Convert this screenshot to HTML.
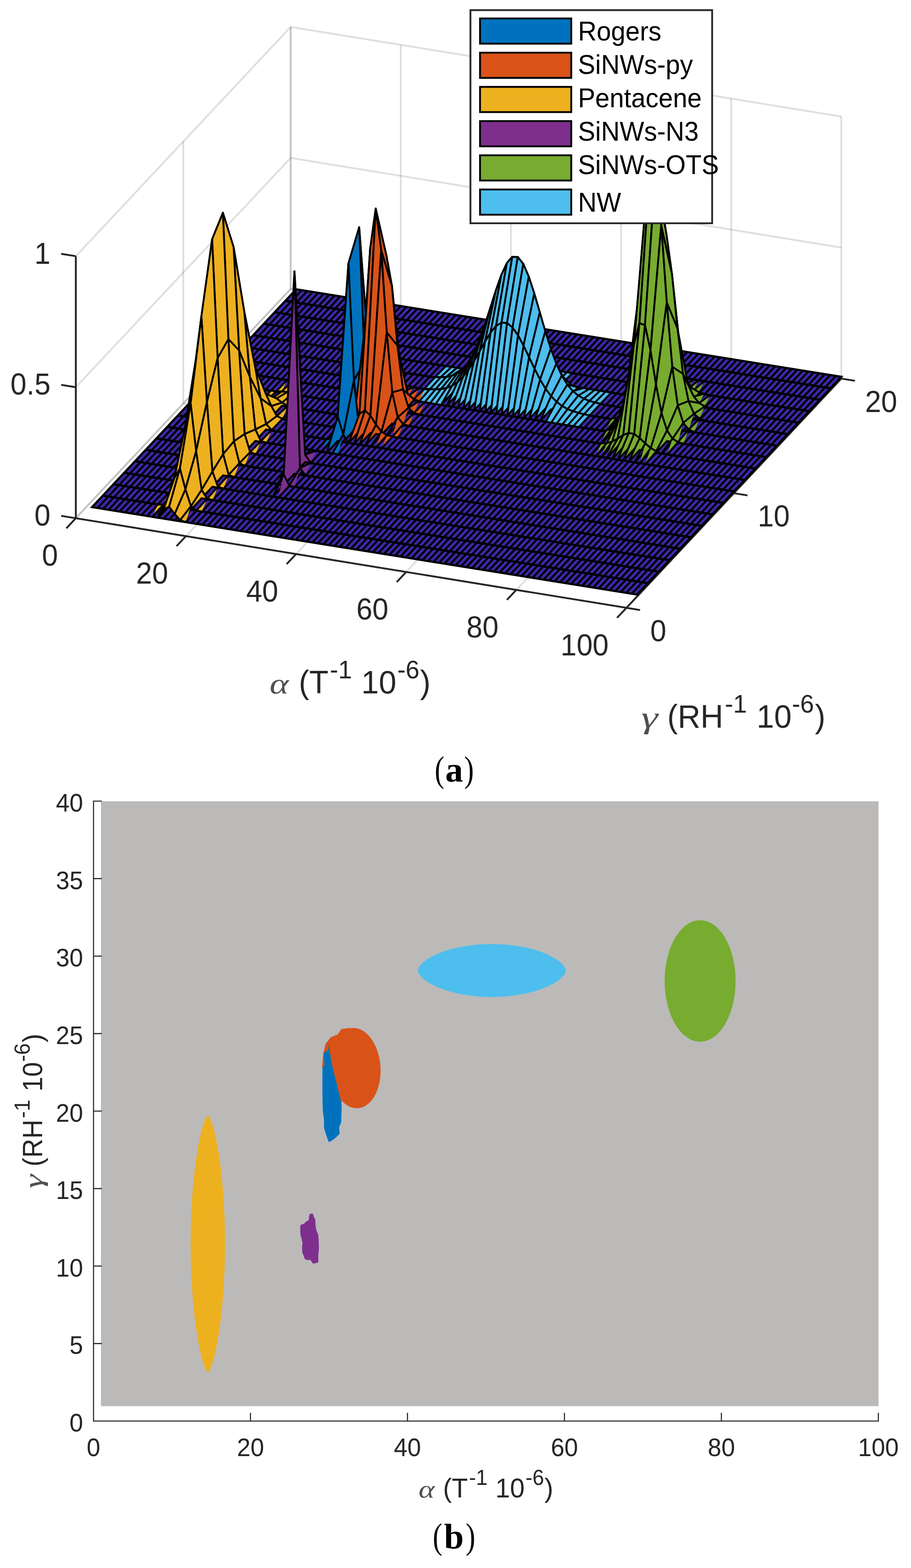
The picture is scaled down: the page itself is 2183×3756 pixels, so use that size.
<!DOCTYPE html>
<html lang="en"><head><meta charset="utf-8"><title>Figure</title>
<style>
html,body{margin:0;padding:0;background:#fff}
body{width:2183px;height:3756px}
svg{display:block}
</style></head><body>
<svg width="2183" height="3756" viewBox="0 0 2183 3756" role="img" aria-label="Figure: (a) 3D density surfaces, (b) 2D map">
<g stroke="#262626" stroke-opacity="0.15" stroke-width="4.4" fill="none" stroke-linecap="butt">
<polyline points="181.7,1241.3 696.5,692.1 696.5,64.5"/>
<polyline points="445.6,1284.2 960.4,735 960.4,107.4"/>
<polyline points="709.5,1327.2 1224.3,778 1224.3,150.4"/>
<polyline points="973.4,1370.1 1488.2,820.9 1488.2,193.3"/>
<polyline points="1237.3,1413.1 1752.1,863.9 1752.1,236.3"/>
<polyline points="1501.2,1456 2016,906.8 2016,279.2"/>
<polyline points="1501.2,1456 181.7,1241.3 181.7,613.7"/>
<polyline points="1758.6,1181.4 439.1,966.7 439.1,339.1"/>
<polyline points="2016,906.8 696.5,692.1 696.5,64.5"/>
<polyline points="181.7,1241.3 696.5,692.1 2016,906.8"/>
<polyline points="181.7,927.5 696.5,378.3 2016,593"/>
<polyline points="181.7,613.7 696.5,64.5 2016,279.2"/>
</g>
<g stroke="#262626" stroke-width="4.4" fill="none" stroke-linecap="butt">
<polyline points="181.7,613.7 181.7,1241.3 1501.2,1456 2016,906.8" stroke-linejoin="miter"/>
<line x1="181.7" y1="1241.3" x2="159.1" y2="1265.4"/>
<line x1="445.6" y1="1284.2" x2="423" y2="1308.3"/>
<line x1="709.5" y1="1327.2" x2="686.9" y2="1351.3"/>
<line x1="973.4" y1="1370.1" x2="950.8" y2="1394.2"/>
<line x1="1237.3" y1="1413.1" x2="1214.7" y2="1437.1"/>
<line x1="1501.2" y1="1456" x2="1478.6" y2="1480.1"/>
<line x1="1501.2" y1="1456" x2="1533.8" y2="1461.3"/>
<line x1="1758.6" y1="1181.4" x2="1791.2" y2="1186.7"/>
<line x1="2016" y1="906.8" x2="2048.6" y2="912.1"/>
<line x1="181.7" y1="1241.3" x2="146.5" y2="1235.6"/>
<line x1="181.7" y1="927.5" x2="146.5" y2="921.8"/>
<line x1="181.7" y1="613.7" x2="146.5" y2="608"/>
</g>
<polygon points="220.6,1214.8 1526.9,1424.3 2016,902.6 709.7,693" fill="#3E26A8" stroke="#000" stroke-width="5.2" stroke-linejoin="miter"/>
<path d="M233.8 1216.9L722.9 695.1M247 1219L736.1 697.3M260.2 1221.1L749.3 699.4M273.4 1223.2L762.5 701.5M286.6 1225.3L775.7 703.6M299.8 1227.5L788.9 705.7M313 1229.6L802.1 707.8M326.2 1231.7L815.3 710M339.4 1233.8L828.4 712.1M352.6 1235.9L841.6 714.2M365.8 1238L854.8 716.3M379 1240.2L868 718.4M392.2 1242.3L881.2 720.5M405.4 1244.4L894.4 722.7M418.6 1246.5L907.6 724.8M431.8 1248.6L920.8 726.9M444.9 1250.7L934 729M458.1 1252.9L947.2 731.1M471.3 1255L960.4 733.2M484.5 1257.1L973.6 735.4M497.7 1259.2L986.8 737.5M510.9 1261.3L1000 739.6M524.1 1263.4L1013.2 741.7M537.3 1265.6L1026.4 743.8M550.5 1267.7L1039.6 745.9M563.7 1269.8L1052.8 748.1M576.9 1271.9L1066 750.2M590.1 1274L1079.2 752.3M603.3 1276.1L1092.3 754.4M616.5 1278.3L1105.5 756.5M629.7 1280.4L1118.7 758.6M642.9 1282.5L1131.9 760.8M656.1 1284.6L1145.1 762.9M669.3 1286.7L1158.3 765M682.5 1288.9L1171.5 767.1M695.7 1291L1184.7 769.2M708.9 1293.1L1197.9 771.3M722 1295.2L1211.1 773.5M735.2 1297.3L1224.3 775.6M748.4 1299.4L1237.5 777.7M761.6 1301.6L1250.7 779.8M774.8 1303.7L1263.9 781.9M788 1305.8L1277.1 784M801.2 1307.9L1290.3 786.2M814.4 1310L1303.5 788.3M827.6 1312.1L1316.7 790.4M840.8 1314.3L1329.9 792.5M854 1316.4L1343.1 794.6M867.2 1318.5L1356.2 796.7M880.4 1320.6L1369.4 798.9M893.6 1322.7L1382.6 801M906.8 1324.8L1395.8 803.1M920 1327L1409 805.2M933.2 1329.1L1422.2 807.3M946.4 1331.2L1435.4 809.5M959.6 1333.3L1448.6 811.6M972.8 1335.4L1461.8 813.7M985.9 1337.5L1475 815.8M999.1 1339.7L1488.2 817.9M1012.3 1341.8L1501.4 820M1025.5 1343.9L1514.6 822.2M1038.7 1346L1527.8 824.3M1051.9 1348.1L1541 826.4M1065.1 1350.2L1554.2 828.5M1078.3 1352.4L1567.4 830.6M1091.5 1354.5L1580.6 832.7M1104.7 1356.6L1593.8 834.9M1117.9 1358.7L1607 837M1131.1 1360.8L1620.1 839.1M1144.3 1362.9L1633.3 841.2M1157.5 1365.1L1646.5 843.3M1170.7 1367.2L1659.7 845.4M1183.9 1369.3L1672.9 847.6M1197.1 1371.4L1686.1 849.7M1210.3 1373.5L1699.3 851.8M1223.5 1375.6L1712.5 853.9M1236.7 1377.8L1725.7 856M1249.8 1379.9L1738.9 858.1M1263 1382L1752.1 860.3M1276.2 1384.1L1765.3 862.4M1289.4 1386.2L1778.5 864.5M1302.6 1388.4L1791.7 866.6M1315.8 1390.5L1804.9 868.7M1329 1392.6L1818.1 870.8M1342.2 1394.7L1831.3 873M1355.4 1396.8L1844.5 875.1M1368.6 1398.9L1857.7 877.2M1381.8 1401.1L1870.9 879.3M1395 1403.2L1884 881.4M1408.2 1405.3L1897.2 883.5M1421.4 1407.4L1910.4 885.7M1434.6 1409.5L1923.6 887.8M1447.8 1411.6L1936.8 889.9M1461 1413.8L1950 892M1474.2 1415.9L1963.2 894.1M1487.4 1418L1976.4 896.2M1500.6 1420.1L1989.6 898.4M1513.7 1422.2L2002.8 900.5" stroke="#000" stroke-width="4.9" fill="none"/>
<path d="M246.4 1187.3L1552.7 1396.9M272.1 1159.8L1578.4 1369.4M297.9 1132.4L1604.2 1342M323.6 1104.9L1629.9 1314.5M349.3 1077.5L1655.6 1287M375.1 1050L1681.4 1259.6M400.8 1022.5L1707.1 1232.1M426.6 995.1L1732.9 1204.7M452.3 967.6L1758.6 1177.2M478 940.2L1784.3 1149.7M503.8 912.7L1810.1 1122.3M529.5 885.2L1835.8 1094.8M555.3 857.8L1861.6 1067.4M581 830.3L1887.3 1039.9M606.7 802.9L1913 1012.4M632.5 775.4L1938.8 985M658.2 747.9L1964.5 957.5M684 720.5L1990.3 930.1" stroke="#000" stroke-width="5.4" fill="none"/>
<g stroke="#000" stroke-width="4.4" stroke-linejoin="round">
<polygon points="1608.9,928.9 1622.1,929.2 1634.6,904.6" fill="#77AC30" stroke="none"/>
<polygon points="1608.9,928.9 1622.1,929.2 1647.8,906.7 1634.6,904.6" fill="none"/>
<polygon points="1622.1,929.2 1635.3,930.1 1647.8,906.7" fill="#77AC30" stroke="none"/>
<polygon points="1622.1,929.2 1635.3,930.1 1661,908.8 1647.8,906.7" fill="none"/>
<polygon points="1635.3,930.1 1648.5,932.3 1661,908.8" fill="#77AC30" stroke="none"/>
<polygon points="1635.3,930.1 1648.5,932.3 1674.2,910.9 1661,908.8" fill="none"/>
<polygon points="1648.5,932.3 1661.7,935.7 1674.2,910.9" fill="#77AC30" stroke="none"/>
<polygon points="1648.5,932.3 1661.7,935.7 1687.4,913.1 1674.2,910.9" fill="none"/>
<polygon points="1661.7,935.7 1674.9,939.6 1687.4,913.1" fill="#77AC30" stroke="none"/>
<polygon points="1661.7,935.7 1674.9,939.6 1700.6,915.2 1687.4,913.1" fill="none"/>
<polygon points="1174.1,893.1 1187.3,894.9 1213.1,868.5 1199.9,866.4" fill="#4DBEEE"/>
<polygon points="1187.3,894.9 1200.5,896.7 1226.2,870.7 1213.1,868.5" fill="#4DBEEE"/>
<polygon points="1200.5,896.7 1213.7,898.5 1239.4,872.8 1226.2,870.7" fill="#4DBEEE"/>
<polygon points="1213.7,898.5 1226.9,900.3 1252.6,874.9 1239.4,872.8" fill="#4DBEEE"/>
<polygon points="1226.9,900.3 1240.1,902.2 1265.8,877 1252.6,874.9" fill="#4DBEEE"/>
<polygon points="1240.1,902.2 1253.3,904.2 1279,879.1 1265.8,877" fill="#4DBEEE"/>
<polygon points="1253.3,904.2 1266.5,906.3 1292.2,881.2 1279,879.1" fill="#4DBEEE"/>
<polygon points="1266.5,906.3 1279.7,908.5 1305.4,883.4 1292.2,881.2" fill="#4DBEEE"/>
<polygon points="1279.7,908.5 1292.9,910.8 1318.6,885.5 1305.4,883.4" fill="#4DBEEE"/>
<polygon points="1292.9,910.8 1306.1,913.2 1331.8,887.6 1318.6,885.5" fill="#4DBEEE"/>
<polygon points="1306.1,913.2 1319.3,915.7 1345,889.7 1331.8,887.6" fill="#4DBEEE"/>
<polygon points="1319.3,915.7 1332.5,918.1 1358.2,891.8 1345,889.7" fill="#4DBEEE"/>
<polygon points="1332.5,918.1 1345.7,920.6 1371.4,893.9 1358.2,891.8" fill="#4DBEEE"/>
<polygon points="1543.6,950.1 1556.8,945.5 1569.3,925.5" fill="#77AC30" stroke="none"/>
<polygon points="1543.6,950.1 1556.8,945.5 1582.5,927.2 1569.3,925.5" fill="none"/>
<polygon points="1556.8,945.5 1570,933.1 1582.5,927.2" fill="#77AC30" stroke="none"/>
<polygon points="1556.8,945.5 1570,933.1 1595.7,928.3 1582.5,927.2" fill="none"/>
<polygon points="1570,933.1 1583.2,911.4 1608.9,928.9 1595.7,928.3" fill="#77AC30"/>
<polygon points="1570,957.4 1583.2,959.5 1608.9,932.1 1595.7,929.9" fill="#3E26A8" stroke-width="4.9"/>
<polygon points="1583.2,911.4 1596.4,886.2 1622.1,929.2 1608.9,928.9" fill="#77AC30"/>
<polygon points="1596.4,886.2 1609.6,869.8 1635.3,930.1 1622.1,929.2" fill="#77AC30"/>
<polygon points="1609.6,869.8 1622.8,873 1648.5,932.3 1635.3,930.1" fill="#77AC30"/>
<polygon points="1622.8,873 1635.9,895.1 1661.7,935.7 1648.5,932.3" fill="#77AC30"/>
<polygon points="1635.9,895.1 1649.1,924.7 1674.9,939.6 1661.7,935.7" fill="#77AC30"/>
<polygon points="1649.1,924.7 1662.3,949.8 1688.1,943.3 1674.9,939.6" fill="#77AC30"/>
<polygon points="1649.1,970.1 1662.3,972.2 1688.1,944.8 1674.9,942.6" fill="#3E26A8" stroke-width="4.9"/>
<polygon points="1662.3,949.8 1675.5,965.5 1688.1,943.3" fill="#77AC30" stroke="none"/>
<polygon points="1662.3,949.8 1675.5,965.5 1701.3,946.3 1688.1,943.3" fill="none"/>
<polygon points="1675.5,965.5 1688.7,973.7 1701.3,946.3" fill="#77AC30" stroke="none"/>
<polygon points="1675.5,965.5 1688.7,973.7 1714.5,949 1701.3,946.3" fill="none"/>
<polygon points="1042.8,903 1056,903.6 1081.8,879.1 1068.6,877" fill="#4DBEEE"/>
<polygon points="1056,903.6 1069.2,903 1095,881.2 1081.8,879.1" fill="#4DBEEE"/>
<polygon points="1069.2,903 1082.4,900.3 1108.1,883.2 1095,881.2" fill="#4DBEEE"/>
<polygon points="1082.4,900.3 1095.6,894.5 1121.3,885.3 1108.1,883.2" fill="#4DBEEE"/>
<polygon points="1095.6,894.5 1108.8,884.3 1134.5,887.3 1121.3,885.3" fill="#4DBEEE"/>
<polygon points="1095.6,912.9 1108.8,915 1134.5,887.5 1121.3,885.4" fill="#3E26A8" stroke-width="4.9"/>
<polygon points="1108.8,884.3 1122,868.2 1147.7,889.3 1134.5,887.3" fill="#4DBEEE"/>
<polygon points="1108.8,915 1122,917.1 1147.7,889.7 1134.5,887.5" fill="#3E26A8" stroke-width="4.9"/>
<polygon points="1122,868.2 1135.2,845.4 1160.9,891.2 1147.7,889.3" fill="#4DBEEE"/>
<polygon points="1122,917.1 1135.2,919.2 1160.9,891.8 1147.7,889.7" fill="#3E26A8" stroke-width="4.9"/>
<polygon points="1135.2,845.4 1148.4,815.3 1174.1,893.1 1160.9,891.2" fill="#4DBEEE"/>
<polygon points="1135.2,919.2 1148.4,921.3 1174.1,893.9 1160.9,891.8" fill="#3E26A8" stroke-width="4.9"/>
<polygon points="1148.4,815.3 1161.6,778.7 1187.3,894.9 1174.1,893.1" fill="#4DBEEE"/>
<polygon points="1148.4,921.3 1161.6,923.5 1187.3,896 1174.1,893.9" fill="#3E26A8" stroke-width="4.9"/>
<polygon points="1161.6,778.7 1174.8,737.9 1200.5,896.7 1187.3,894.9" fill="#4DBEEE"/>
<polygon points="1161.6,923.5 1174.8,925.6 1200.5,898.1 1187.3,896" fill="#3E26A8" stroke-width="4.9"/>
<polygon points="1174.8,737.9 1188,696.4 1213.7,898.5 1200.5,896.7" fill="#4DBEEE"/>
<polygon points="1174.8,925.6 1188,927.7 1213.7,900.2 1200.5,898.1" fill="#3E26A8" stroke-width="4.9"/>
<polygon points="1188,696.4 1201.2,659 1226.9,900.3 1213.7,898.5" fill="#4DBEEE"/>
<polygon points="1188,927.7 1201.2,929.8 1226.9,902.4 1213.7,900.2" fill="#3E26A8" stroke-width="4.9"/>
<polygon points="1201.2,659 1214.4,630.5 1240.1,902.2 1226.9,900.3" fill="#4DBEEE"/>
<polygon points="1201.2,929.8 1214.4,931.9 1240.1,904.5 1226.9,902.4" fill="#3E26A8" stroke-width="4.9"/>
<polygon points="1214.4,630.5 1227.5,615.2 1253.3,904.2 1240.1,902.2" fill="#4DBEEE"/>
<polygon points="1214.4,931.9 1227.5,934 1253.3,906.6 1240.1,904.5" fill="#3E26A8" stroke-width="4.9"/>
<polygon points="1227.5,615.2 1240.7,615.7 1266.5,906.3 1253.3,904.2" fill="#4DBEEE"/>
<polygon points="1227.5,934 1240.7,936.2 1266.5,908.7 1253.3,906.6" fill="#3E26A8" stroke-width="4.9"/>
<polygon points="1240.7,615.7 1253.9,632.2 1279.7,908.5 1266.5,906.3" fill="#4DBEEE"/>
<polygon points="1240.7,936.2 1253.9,938.3 1279.7,910.8 1266.5,908.7" fill="#3E26A8" stroke-width="4.9"/>
<polygon points="1253.9,632.2 1267.1,662.6 1292.9,910.8 1279.7,908.5" fill="#4DBEEE"/>
<polygon points="1253.9,938.3 1267.1,940.4 1292.9,912.9 1279.7,910.8" fill="#3E26A8" stroke-width="4.9"/>
<polygon points="1267.1,662.6 1280.3,702.8 1306.1,913.2 1292.9,910.8" fill="#4DBEEE"/>
<polygon points="1267.1,940.4 1280.3,942.5 1306.1,915.1 1292.9,912.9" fill="#3E26A8" stroke-width="4.9"/>
<polygon points="1280.3,702.8 1293.5,748.2 1319.3,915.7 1306.1,913.2" fill="#4DBEEE"/>
<polygon points="1280.3,942.5 1293.5,944.6 1319.3,917.2 1306.1,915.1" fill="#3E26A8" stroke-width="4.9"/>
<polygon points="1293.5,748.2 1306.7,793.7 1332.5,918.1 1319.3,915.7" fill="#4DBEEE"/>
<polygon points="1293.5,944.6 1306.7,946.8 1332.5,919.3 1319.3,917.2" fill="#3E26A8" stroke-width="4.9"/>
<polygon points="1306.7,793.7 1319.9,835.5 1345.7,920.6 1332.5,918.1" fill="#4DBEEE"/>
<polygon points="1306.7,946.8 1319.9,948.9 1345.7,921.4 1332.5,919.3" fill="#3E26A8" stroke-width="4.9"/>
<polygon points="1319.9,835.5 1333.1,871.3 1358.8,922.9 1345.7,920.6" fill="#4DBEEE"/>
<polygon points="1319.9,948.9 1333.1,951 1358.8,923.5 1345.7,921.4" fill="#3E26A8" stroke-width="4.9"/>
<polygon points="1333.1,871.3 1346.3,899.8 1372,925.2 1358.8,922.9" fill="#4DBEEE"/>
<polygon points="1333.1,951 1346.3,953.1 1372,925.6 1358.8,923.5" fill="#3E26A8" stroke-width="4.9"/>
<polygon points="1346.3,899.8 1359.5,921.3 1385.2,927.5 1372,925.2" fill="#4DBEEE"/>
<polygon points="1346.3,953.1 1359.5,955.2 1385.2,927.8 1372,925.6" fill="#3E26A8" stroke-width="4.9"/>
<polygon points="1359.5,921.3 1372.7,936.9 1398.4,929.7 1385.2,927.5" fill="#4DBEEE"/>
<polygon points="1359.5,955.2 1372.7,957.3 1398.4,929.9 1385.2,927.8" fill="#3E26A8" stroke-width="4.9"/>
<polygon points="1372.7,936.9 1385.9,947.7 1411.6,931.9 1398.4,929.7" fill="#4DBEEE"/>
<polygon points="1385.9,947.7 1399.1,955.2 1424.8,934.1 1411.6,931.9" fill="#4DBEEE"/>
<polygon points="1399.1,955.2 1412.3,960.4 1438,936.2 1424.8,934.1" fill="#4DBEEE"/>
<polygon points="1412.3,960.4 1425.5,964.2 1451.2,938.3 1438,936.2" fill="#4DBEEE"/>
<polygon points="1425.5,964.2 1438.7,967.2 1464.4,940.5 1451.2,938.3" fill="#4DBEEE"/>
<polygon points="1504.6,974.9 1517.8,966.2 1530.4,950.3" fill="#77AC30" stroke="none"/>
<polygon points="1504.6,974.9 1517.8,966.2 1543.6,950.1 1530.4,950.3" fill="none"/>
<polygon points="1517.8,966.2 1531,937.4 1556.8,945.5 1543.6,950.1" fill="#77AC30"/>
<polygon points="1531,937.4 1544.2,871.9 1570,933.1 1556.8,945.5" fill="#77AC30"/>
<polygon points="1544.2,871.9 1557.4,763.6 1583.2,911.4 1570,933.1" fill="#77AC30"/>
<polygon points="1557.4,763.6 1570.6,638.5 1596.4,886.2 1583.2,911.4" fill="#77AC30"/>
<polygon points="1570.6,638.5 1583.8,554.6 1609.6,869.8 1596.4,886.2" fill="#77AC30"/>
<polygon points="1583.8,554.6 1597,561.7 1622.8,873 1609.6,869.8" fill="#77AC30"/>
<polygon points="1597,561.7 1610.2,656.8 1635.9,895.1 1622.8,873" fill="#77AC30"/>
<polygon points="1610.2,656.8 1623.4,786.7 1649.1,924.7 1635.9,895.1" fill="#77AC30"/>
<polygon points="1623.4,786.7 1636.6,895.5 1662.3,949.8 1649.1,924.7" fill="#77AC30"/>
<polygon points="1636.6,895.5 1649.8,960.9 1675.5,965.5 1662.3,949.8" fill="#77AC30"/>
<polygon points="1649.8,960.9 1663,991.2 1688.7,973.7 1675.5,965.5" fill="#77AC30"/>
<polygon points="1663,991.2 1676.2,1002.9 1688.7,973.7" fill="#77AC30" stroke="none"/>
<polygon points="1663,991.2 1676.2,1002.9 1701.9,977.9 1688.7,973.7" fill="none"/>
<polygon points="1017.1,931 1030.3,932.3 1056,903.6 1042.8,903" fill="#4DBEEE"/>
<polygon points="1030.3,932.3 1043.5,932.8 1069.2,903 1056,903.6" fill="#4DBEEE"/>
<polygon points="1043.5,932.8 1056.7,932 1082.4,900.3 1069.2,903" fill="#4DBEEE"/>
<polygon points="1056.7,932 1069.9,929.5 1095.6,894.5 1082.4,900.3" fill="#4DBEEE"/>
<polygon points="1069.9,929.5 1083.1,924.3 1108.8,884.3 1095.6,894.5" fill="#4DBEEE"/>
<polygon points="1083.1,924.3 1096.2,915.6 1122,868.2 1108.8,884.3" fill="#4DBEEE"/>
<polygon points="1096.2,915.6 1109.4,903 1135.2,845.4 1122,868.2" fill="#4DBEEE"/>
<polygon points="1109.4,903 1122.6,886 1148.4,815.3 1135.2,845.4" fill="#4DBEEE"/>
<polygon points="1122.6,886 1135.8,865.3 1161.6,778.7 1148.4,815.3" fill="#4DBEEE"/>
<polygon points="1135.8,865.3 1149,842 1174.8,737.9 1161.6,778.7" fill="#4DBEEE"/>
<polygon points="1149,842 1162.2,818.3 1188,696.4 1174.8,737.9" fill="#4DBEEE"/>
<polygon points="1162.2,818.3 1175.4,797 1201.2,659 1188,696.4" fill="#4DBEEE"/>
<polygon points="1175.4,797 1188.6,781 1214.4,630.5 1201.2,659" fill="#4DBEEE"/>
<polygon points="1188.6,781 1201.8,772.8 1227.5,615.2 1214.4,630.5" fill="#4DBEEE"/>
<polygon points="1201.8,772.8 1215,774 1240.7,615.7 1227.5,615.2" fill="#4DBEEE"/>
<polygon points="1215,774 1228.2,784.6 1253.9,632.2 1240.7,615.7" fill="#4DBEEE"/>
<polygon points="1228.2,784.6 1241.4,803.4 1267.1,662.6 1253.9,632.2" fill="#4DBEEE"/>
<polygon points="1241.4,803.4 1254.6,828.1 1280.3,702.8 1267.1,662.6" fill="#4DBEEE"/>
<polygon points="1254.6,828.1 1267.8,855.8 1293.5,748.2 1280.3,702.8" fill="#4DBEEE"/>
<polygon points="1267.8,855.8 1281,883.6 1306.7,793.7 1293.5,748.2" fill="#4DBEEE"/>
<polygon points="1281,883.6 1294.2,909.3 1319.9,835.5 1306.7,793.7" fill="#4DBEEE"/>
<polygon points="1294.2,909.3 1307.4,931.3 1333.1,871.3 1319.9,835.5" fill="#4DBEEE"/>
<polygon points="1307.4,931.3 1320.6,949 1346.3,899.8 1333.1,871.3" fill="#4DBEEE"/>
<polygon points="1320.6,949 1333.8,962.6 1359.5,921.3 1346.3,899.8" fill="#4DBEEE"/>
<polygon points="1333.8,962.6 1347,972.7 1372.7,936.9 1359.5,921.3" fill="#4DBEEE"/>
<polygon points="1347,972.7 1360.1,980 1385.9,947.7 1372.7,936.9" fill="#4DBEEE"/>
<polygon points="1360.1,980 1373.3,985.2 1399.1,955.2 1385.9,947.7" fill="#4DBEEE"/>
<polygon points="1373.3,985.2 1386.5,989.2 1412.3,960.4 1399.1,955.2" fill="#4DBEEE"/>
<polygon points="1386.5,989.2 1399.7,992.3 1425.5,964.2 1412.3,960.4" fill="#4DBEEE"/>
<polygon points="1399.7,992.3 1412.9,994.9 1438.7,967.2 1425.5,964.2" fill="#4DBEEE"/>
<polygon points="1478.9,1000.8 1504.6,974.9 1491.4,975.7" fill="#77AC30" stroke="none"/>
<polygon points="1465.7,1002.8 1478.9,1000.8 1504.6,974.9 1491.4,975.7" fill="none"/>
<polygon points="1492.1,987.5 1517.8,966.2 1504.6,974.9" fill="#77AC30" stroke="none"/>
<polygon points="1478.9,1000.8 1492.1,987.5 1517.8,966.2 1504.6,974.9" fill="none"/>
<polygon points="1492.1,987.5 1505.3,945.6 1531,937.4 1517.8,966.2" fill="#77AC30"/>
<polygon points="1505.3,945.6 1518.5,851.3 1544.2,871.9 1531,937.4" fill="#77AC30"/>
<polygon points="1518.5,851.3 1531.7,696.1 1557.4,763.6 1544.2,871.9" fill="#77AC30"/>
<polygon points="1531.7,696.1 1544.9,516.9 1570.6,638.5 1557.4,763.6" fill="#77AC30"/>
<polygon points="1544.9,516.9 1558.1,396.3 1583.8,554.6 1570.6,638.5" fill="#77AC30"/>
<polygon points="1558.1,396.3 1571.3,405.6 1597,561.7 1583.8,554.6" fill="#77AC30"/>
<polygon points="1571.3,405.6 1584.5,540.3 1610.2,656.8 1597,561.7" fill="#77AC30"/>
<polygon points="1584.5,540.3 1597.7,724.5 1623.4,786.7 1610.2,656.8" fill="#77AC30"/>
<polygon points="1597.7,724.5 1610.9,878.7 1636.6,895.5 1623.4,786.7" fill="#77AC30"/>
<polygon points="1610.9,878.7 1624,971 1649.8,960.9 1636.6,895.5" fill="#77AC30"/>
<polygon points="1624,971 1637.2,1013.2 1663,991.2 1649.8,960.9" fill="#77AC30"/>
<polygon points="1637.2,1013.2 1650.4,1029 1663,991.2" fill="#77AC30" stroke="none"/>
<polygon points="1637.2,1013.2 1650.4,1029 1676.2,1002.9 1663,991.2" fill="none"/>
<polygon points="1650.4,1029 1663.6,1034.7 1676.2,1002.9" fill="#77AC30" stroke="none"/>
<polygon points="1650.4,1029 1663.6,1034.7 1689.4,1007.5 1676.2,1002.9" fill="none"/>
<polygon points="899,943.9 912.2,943.7 924.7,917.1" fill="#D95319" stroke="none"/>
<polygon points="899,943.9 912.2,943.7 937.9,919.2 924.7,917.1" fill="none"/>
<polygon points="899,944.3 912.2,943.7 924.7,917.1" fill="#0072BD" stroke="none"/>
<polygon points="899,944.3 912.2,943.7 937.9,919.2 924.7,917.1" fill="none"/>
<polygon points="912.2,943.7 925.4,947.9 937.9,919.2" fill="#0072BD" stroke="none"/>
<polygon points="912.2,943.7 925.4,947.9 951.1,921.3 937.9,919.2" fill="none"/>
<polygon points="912.2,943.7 925.4,940.3 937.9,919.2" fill="#D95319" stroke="none"/>
<polygon points="912.2,943.7 925.4,940.3 951.1,921.3 937.9,919.2" fill="none"/>
<polygon points="925.4,940.3 938.6,934.9 951.1,921.3" fill="#D95319" stroke="none"/>
<polygon points="925.4,940.3 938.6,934.9 964.3,923.3 951.1,921.3" fill="none"/>
<polygon points="938.6,934.9 951.8,933.2 977.5,925.4 964.3,923.3" fill="#D95319"/>
<polygon points="938.6,950.9 951.8,953 977.5,925.5 964.3,923.4" fill="#3E26A8" stroke-width="4.9"/>
<polygon points="951.8,933.2 964.9,939.1 990.7,927.6 977.5,925.4" fill="#D95319"/>
<polygon points="951.8,953 964.9,955.1 990.7,927.6 977.5,925.5" fill="#3E26A8" stroke-width="4.9"/>
<polygon points="964.9,939.1 978.1,948.8 990.7,927.6" fill="#D95319" stroke="none"/>
<polygon points="964.9,939.1 978.1,948.8 1003.9,929.8 990.7,927.6" fill="none"/>
<polygon points="978.1,948.8 991.3,956.4 1003.9,929.8" fill="#D95319" stroke="none"/>
<polygon points="978.1,948.8 991.3,956.4 1017.1,931.9 1003.9,929.8" fill="none"/>
<polygon points="991.3,959.3 1004.5,961.4 1030.3,932.3 1017.1,931" fill="#4DBEEE"/>
<polygon points="991.3,956.4 1004.5,960.8 1017.1,931.9" fill="#D95319" stroke="none"/>
<polygon points="991.3,956.4 1004.5,960.8 1030.3,934 1017.1,931.9" fill="none"/>
<polygon points="1004.5,961.4 1017.7,963.6 1043.5,932.8 1030.3,932.3" fill="#4DBEEE"/>
<polygon points="1017.7,963.6 1030.9,965.7 1056.7,932 1043.5,932.8" fill="#4DBEEE"/>
<polygon points="1030.9,965.7 1044.1,967.8 1069.9,929.5 1056.7,932" fill="#4DBEEE"/>
<polygon points="1044.1,967.8 1057.3,969.9 1083.1,924.3 1069.9,929.5" fill="#4DBEEE"/>
<polygon points="1057.3,969.9 1070.5,972 1096.2,915.6 1083.1,924.3" fill="#4DBEEE"/>
<polygon points="1057.3,969.9 1070.5,972 1096.2,944.6 1083.1,942.5" fill="#3E26A8" stroke-width="4.9"/>
<polygon points="1070.5,972 1083.7,974 1109.4,903 1096.2,915.6" fill="#4DBEEE"/>
<polygon points="1070.5,972 1083.7,974.2 1109.4,946.7 1096.2,944.6" fill="#3E26A8" stroke-width="4.9"/>
<polygon points="1083.7,974 1096.9,976.1 1122.6,886 1109.4,903" fill="#4DBEEE"/>
<polygon points="1083.7,974.2 1096.9,976.3 1122.6,948.8 1109.4,946.7" fill="#3E26A8" stroke-width="4.9"/>
<polygon points="1096.9,976.1 1110.1,978.2 1135.8,865.3 1122.6,886" fill="#4DBEEE"/>
<polygon points="1096.9,976.3 1110.1,978.4 1135.8,950.9 1122.6,948.8" fill="#3E26A8" stroke-width="4.9"/>
<polygon points="1110.1,978.2 1123.3,980.2 1149,842 1135.8,865.3" fill="#4DBEEE"/>
<polygon points="1110.1,978.4 1123.3,980.5 1149,953 1135.8,950.9" fill="#3E26A8" stroke-width="4.9"/>
<polygon points="1123.3,980.2 1136.5,982.3 1162.2,818.3 1149,842" fill="#4DBEEE"/>
<polygon points="1123.3,980.5 1136.5,982.6 1162.2,955.2 1149,953" fill="#3E26A8" stroke-width="4.9"/>
<polygon points="1136.5,982.3 1149.7,984.3 1175.4,797 1162.2,818.3" fill="#4DBEEE"/>
<polygon points="1136.5,982.6 1149.7,984.7 1175.4,957.3 1162.2,955.2" fill="#3E26A8" stroke-width="4.9"/>
<polygon points="1149.7,984.3 1162.9,986.4 1188.6,781 1175.4,797" fill="#4DBEEE"/>
<polygon points="1149.7,984.7 1162.9,986.9 1188.6,959.4 1175.4,957.3" fill="#3E26A8" stroke-width="4.9"/>
<polygon points="1162.9,986.4 1176.1,988.5 1201.8,772.8 1188.6,781" fill="#4DBEEE"/>
<polygon points="1162.9,986.9 1176.1,989 1201.8,961.5 1188.6,959.4" fill="#3E26A8" stroke-width="4.9"/>
<polygon points="1176.1,988.5 1189.3,990.6 1215,774 1201.8,772.8" fill="#4DBEEE"/>
<polygon points="1176.1,989 1189.3,991.1 1215,963.6 1201.8,961.5" fill="#3E26A8" stroke-width="4.9"/>
<polygon points="1189.3,990.6 1202.5,992.7 1228.2,784.6 1215,774" fill="#4DBEEE"/>
<polygon points="1189.3,991.1 1202.5,993.2 1228.2,965.7 1215,963.6" fill="#3E26A8" stroke-width="4.9"/>
<polygon points="1202.5,992.7 1215.7,994.9 1241.4,803.4 1228.2,784.6" fill="#4DBEEE"/>
<polygon points="1202.5,993.2 1215.7,995.3 1241.4,967.9 1228.2,965.7" fill="#3E26A8" stroke-width="4.9"/>
<polygon points="1215.7,994.9 1228.8,997.1 1254.6,828.1 1241.4,803.4" fill="#4DBEEE"/>
<polygon points="1215.7,995.3 1228.8,997.4 1254.6,970 1241.4,967.9" fill="#3E26A8" stroke-width="4.9"/>
<polygon points="1228.8,997.1 1242,999.2 1267.8,855.8 1254.6,828.1" fill="#4DBEEE"/>
<polygon points="1228.8,997.4 1242,999.6 1267.8,972.1 1254.6,970" fill="#3E26A8" stroke-width="4.9"/>
<polygon points="1242,999.2 1255.2,1001.4 1281,883.6 1267.8,855.8" fill="#4DBEEE"/>
<polygon points="1242,999.6 1255.2,1001.7 1281,974.2 1267.8,972.1" fill="#3E26A8" stroke-width="4.9"/>
<polygon points="1255.2,1001.4 1268.4,1003.6 1294.2,909.3 1281,883.6" fill="#4DBEEE"/>
<polygon points="1255.2,1001.7 1268.4,1003.8 1294.2,976.3 1281,974.2" fill="#3E26A8" stroke-width="4.9"/>
<polygon points="1268.4,1003.6 1281.6,1005.8 1307.4,931.3 1294.2,909.3" fill="#4DBEEE"/>
<polygon points="1268.4,1003.8 1281.6,1005.9 1307.4,978.4 1294.2,976.3" fill="#3E26A8" stroke-width="4.9"/>
<polygon points="1281.6,1005.8 1294.8,1007.9 1320.6,949 1307.4,931.3" fill="#4DBEEE"/>
<polygon points="1281.6,1005.9 1294.8,1008 1320.6,980.6 1307.4,978.4" fill="#3E26A8" stroke-width="4.9"/>
<polygon points="1294.8,1007.9 1308,1010.1 1333.8,962.6 1320.6,949" fill="#4DBEEE"/>
<polygon points="1294.8,1008 1308,1010.1 1333.8,982.7 1320.6,980.6" fill="#3E26A8" stroke-width="4.9"/>
<polygon points="1308,1010.1 1321.2,1012.3 1347,972.7 1333.8,962.6" fill="#4DBEEE"/>
<polygon points="1321.2,1012.3 1334.4,1014.4 1360.1,980 1347,972.7" fill="#4DBEEE"/>
<polygon points="1334.4,1014.4 1347.6,1016.5 1373.3,985.2 1360.1,980" fill="#4DBEEE"/>
<polygon points="1347.6,1016.5 1360.8,1018.6 1386.5,989.2 1373.3,985.2" fill="#4DBEEE"/>
<polygon points="1360.8,1018.6 1374,1020.7 1399.7,992.3 1386.5,989.2" fill="#4DBEEE"/>
<polygon points="1374,1020.7 1387.2,1022.8 1412.9,994.9 1399.7,992.3" fill="#4DBEEE"/>
<polygon points="1453.2,1031.2 1478.9,1000.8 1465.7,1002.8" fill="#77AC30" stroke="none"/>
<polygon points="1440,1030.9 1453.2,1031.2 1478.9,1000.8 1465.7,1002.8" fill="none"/>
<polygon points="1466.4,1026.5 1492.1,987.5 1478.9,1000.8" fill="#77AC30" stroke="none"/>
<polygon points="1453.2,1031.2 1466.4,1026.5 1492.1,987.5 1478.9,1000.8" fill="none"/>
<polygon points="1466.4,1026.5 1479.6,1009.4 1505.3,945.6 1492.1,987.5" fill="#77AC30"/>
<polygon points="1479.6,1009.4 1492.8,969.4 1518.5,851.3 1505.3,945.6" fill="#77AC30"/>
<polygon points="1492.8,969.4 1505.9,902.7 1531.7,696.1 1518.5,851.3" fill="#77AC30"/>
<polygon points="1505.9,902.7 1519.1,825.5 1544.9,516.9 1531.7,696.1" fill="#77AC30"/>
<polygon points="1519.1,825.5 1532.3,773.9 1558.1,396.3 1544.9,516.9" fill="#77AC30"/>
<polygon points="1532.3,773.9 1545.5,779.2 1571.3,405.6 1558.1,396.3" fill="#77AC30"/>
<polygon points="1545.5,779.2 1558.7,839.3 1584.5,540.3 1571.3,405.6" fill="#77AC30"/>
<polygon points="1558.7,839.3 1571.9,921.1 1597.7,724.5 1584.5,540.3" fill="#77AC30"/>
<polygon points="1571.9,921.1 1585.1,989.7 1610.9,878.7 1597.7,724.5" fill="#77AC30"/>
<polygon points="1585.1,989.7 1598.3,1031.2 1624,971 1610.9,878.7" fill="#77AC30"/>
<polygon points="1598.3,1031.2 1611.5,1050.9 1637.2,1013.2 1624,971" fill="#77AC30"/>
<polygon points="1611.5,1050.9 1624.7,1059 1637.2,1013.2" fill="#77AC30" stroke="none"/>
<polygon points="1611.5,1050.9 1624.7,1059 1650.4,1029 1637.2,1013.2" fill="none"/>
<polygon points="1624.7,1059 1637.9,1062.7 1650.4,1029" fill="#77AC30" stroke="none"/>
<polygon points="1624.7,1059 1637.9,1062.7 1663.6,1034.7 1650.4,1029" fill="none"/>
<polygon points="662.1,937.4 675.3,937.8 687.9,910.5" fill="#EDB120" stroke="none"/>
<polygon points="662.1,937.4 675.3,937.8 701,912.4 687.9,910.5" fill="none"/>
<polygon points="675.3,937.8 688.5,939.1 701,912.4" fill="#EDB120" stroke="none"/>
<polygon points="675.3,937.8 688.5,939.1 714.2,914.3 701,912.4" fill="none"/>
<polygon points="688.5,939.1 701.7,942.8 714.2,914.3" fill="#EDB120" stroke="none"/>
<polygon points="688.5,939.1 701.7,942.8 727.4,916.7 714.2,914.3" fill="none"/>
<polygon points="701.7,942.8 714.9,946.3 727.4,916.7" fill="#EDB120" stroke="none"/>
<polygon points="701.7,942.8 714.9,946.3 740.6,919.1 727.4,916.7" fill="none"/>
<polygon points="846.8,967.6 860,968.1 872.6,940.3" fill="#D95319" stroke="none"/>
<polygon points="846.8,967.6 860,968.1 885.8,942.3 872.6,940.3" fill="none"/>
<polygon points="873.2,966.6 899,944.3 885.8,942.4" fill="#0072BD" stroke="none"/>
<polygon points="860,969.9 873.2,966.6 899,944.3 885.8,942.4" fill="none"/>
<polygon points="860,968.1 873.2,959.9 885.8,942.3" fill="#D95319" stroke="none"/>
<polygon points="860,968.1 873.2,959.9 899,943.9 885.8,942.3" fill="none"/>
<polygon points="873.2,959.9 886.4,920.2 912.2,943.7 899,943.9" fill="#D95319"/>
<polygon points="873.2,972 886.4,974.1 912.2,946.6 899,944.5" fill="#3E26A8" stroke-width="4.9"/>
<polygon points="873.2,966.6 886.4,885.3 912.2,943.7 899,944.3" fill="#0072BD"/>
<polygon points="873.2,972 886.4,974.1 912.2,946.6 899,944.5" fill="#3E26A8" stroke-width="4.9"/>
<polygon points="886.4,885.3 899.6,949.5 925.4,947.9 912.2,943.7" fill="#0072BD"/>
<polygon points="886.4,974.1 899.6,976.2 925.4,948.7 912.2,946.6" fill="#3E26A8" stroke-width="4.9"/>
<polygon points="886.4,920.2 899.6,819.5 925.4,940.3 912.2,943.7" fill="#D95319"/>
<polygon points="899.6,949.5 912.8,978.2 938.6,950.9 925.4,947.9" fill="#0072BD"/>
<polygon points="899.6,976.2 912.8,978.3 938.6,950.9 925.4,948.7" fill="#3E26A8" stroke-width="4.9"/>
<polygon points="899.6,819.5 912.8,681 938.6,934.9 925.4,940.3" fill="#D95319"/>
<polygon points="912.8,681 926,612.3 951.8,933.2 938.6,934.9" fill="#D95319"/>
<polygon points="926,612.3 939.2,685.2 964.9,939.1 951.8,933.2" fill="#D95319"/>
<polygon points="939.2,685.2 952.4,828 978.1,948.8 964.9,939.1" fill="#D95319"/>
<polygon points="952.4,828 965.6,932.9 991.3,956.4 978.1,948.8" fill="#D95319"/>
<polygon points="965.6,932.9 978.8,976.8 1004.5,960.8 991.3,956.4" fill="#D95319"/>
<polygon points="965.6,986.8 978.8,988.9 1004.5,961.4 991.3,959.3" fill="#3E26A8" stroke-width="4.9"/>
<polygon points="978.8,976.8 992,989.3 1004.5,960.8" fill="#D95319" stroke="none"/>
<polygon points="978.8,976.8 992,989.3 1017.7,963.5 1004.5,960.8" fill="none"/>
<polygon points="992,989.3 1005.2,993 1017.7,963.5" fill="#D95319" stroke="none"/>
<polygon points="992,989.3 1005.2,993 1030.9,965.7 1017.7,963.5" fill="none"/>
<polygon points="1440.6,1061.8 1466.4,1026.5 1453.2,1031.2" fill="#77AC30" stroke="none"/>
<polygon points="1427.4,1060.6 1440.6,1061.8 1466.4,1026.5 1453.2,1031.2" fill="none"/>
<polygon points="1440.6,1061.8 1453.8,1061.3 1479.6,1009.4 1466.4,1026.5" fill="#77AC30"/>
<polygon points="1440.6,1063 1453.8,1065.1 1479.6,1037.7 1466.4,1035.5" fill="#3E26A8" stroke-width="4.9"/>
<polygon points="1453.8,1061.3 1467,1057.8 1492.8,969.4 1479.6,1009.4" fill="#77AC30"/>
<polygon points="1467,1057.8 1480.2,1050.7 1505.9,902.7 1492.8,969.4" fill="#77AC30"/>
<polygon points="1480.2,1050.7 1493.4,1042.1 1519.1,825.5 1505.9,902.7" fill="#77AC30"/>
<polygon points="1493.4,1042.1 1506.6,1037.1 1532.3,773.9 1519.1,825.5" fill="#77AC30"/>
<polygon points="1506.6,1037.1 1519.8,1039.6 1545.5,779.2 1532.3,773.9" fill="#77AC30"/>
<polygon points="1519.8,1039.6 1533,1049.5 1558.7,839.3 1545.5,779.2" fill="#77AC30"/>
<polygon points="1533,1049.5 1546.2,1062.3 1571.9,921.1 1558.7,839.3" fill="#77AC30"/>
<polygon points="1546.2,1062.3 1559.4,1073.3 1585.1,989.7 1571.9,921.1" fill="#77AC30"/>
<polygon points="1559.4,1073.3 1572.6,1080.8 1598.3,1031.2 1585.1,989.7" fill="#77AC30"/>
<polygon points="1572.6,1080.8 1585.8,1085.2 1611.5,1050.9 1598.3,1031.2" fill="#77AC30"/>
<polygon points="1572.6,1084.2 1585.8,1086.3 1611.5,1058.8 1598.3,1056.7" fill="#3E26A8" stroke-width="4.9"/>
<polygon points="1599,1088.1 1624.7,1059 1611.5,1050.9" fill="#77AC30" stroke="none"/>
<polygon points="1585.8,1085.2 1599,1088.1 1624.7,1059 1611.5,1050.9" fill="none"/>
<polygon points="636.4,962.5 662.1,937.4 648.9,935.9" fill="#EDB120" stroke="none"/>
<polygon points="623.2,963.1 636.4,962.5 662.1,937.4 648.9,935.9" fill="none"/>
<polygon points="636.4,962.5 649.6,956.4 662.1,937.4" fill="#EDB120" stroke="none"/>
<polygon points="636.4,962.5 649.6,956.4 675.3,937.8 662.1,937.4" fill="none"/>
<polygon points="649.6,956.4 662.8,954.6 688.5,939.1 675.3,937.8" fill="#EDB120"/>
<polygon points="662.8,954.6 676,964.4 701.7,942.8 688.5,939.1" fill="#EDB120"/>
<polygon points="676,964.4 689.2,972.7 701.7,942.8" fill="#EDB120" stroke="none"/>
<polygon points="676,964.4 689.2,972.7 714.9,946.3 701.7,942.8" fill="none"/>
<polygon points="689.2,972.7 702.3,976.1 714.9,946.3" fill="#EDB120" stroke="none"/>
<polygon points="689.2,972.7 702.3,976.1 728.1,948.7 714.9,946.3" fill="none"/>
<polygon points="834.3,994.9 860,968.1 846.8,967.6" fill="#D95319" stroke="none"/>
<polygon points="821.1,995 834.3,994.9 860,968.1 846.8,967.6" fill="none"/>
<polygon points="847.5,982.8 873.2,959.9 860,968.1" fill="#D95319" stroke="none"/>
<polygon points="834.3,994.9 847.5,982.8 873.2,959.9 860,968.1" fill="none"/>
<polygon points="834.3,997.3 847.5,971.6 873.2,966.6 860,969.9" fill="#0072BD"/>
<polygon points="834.3,997.3 847.5,999.4 873.2,972 860,969.9" fill="#3E26A8" stroke-width="4.9"/>
<polygon points="847.5,982.8 860.7,927.2 886.4,920.2 873.2,959.9" fill="#D95319"/>
<polygon points="847.5,971.6 860.7,544.4 886.4,885.3 873.2,966.6" fill="#0072BD"/>
<polygon points="860.7,927.2 873.9,787.4 899.6,819.5 886.4,920.2" fill="#D95319"/>
<polygon points="860.7,544.4 873.9,866 899.6,949.5 886.4,885.3" fill="#0072BD"/>
<polygon points="873.9,866 887.1,1005 912.8,978.2 899.6,949.5" fill="#0072BD"/>
<polygon points="873.9,1003.7 887.1,1005.8 912.8,978.3 899.6,976.2" fill="#3E26A8" stroke-width="4.9"/>
<polygon points="873.9,787.4 887.1,595.3 912.8,681 899.6,819.5" fill="#D95319"/>
<polygon points="887.1,595.3 900.3,499.6 926,612.3 912.8,681" fill="#D95319"/>
<polygon points="900.3,499.6 913.5,599.5 939.2,685.2 926,612.3" fill="#D95319"/>
<polygon points="913.5,599.5 926.7,795.8 952.4,828 939.2,685.2" fill="#D95319"/>
<polygon points="926.7,795.8 939.9,939.9 965.6,932.9 952.4,828" fill="#D95319"/>
<polygon points="939.9,939.9 953.1,999.7 978.8,976.8 965.6,932.9" fill="#D95319"/>
<polygon points="953.1,999.7 966.2,1016 978.8,976.8" fill="#D95319" stroke="none"/>
<polygon points="953.1,999.7 966.2,1016 992,989.3 978.8,976.8" fill="none"/>
<polygon points="966.2,1016 979.4,1020.4 992,989.3" fill="#D95319" stroke="none"/>
<polygon points="966.2,1016 979.4,1020.4 1005.2,993 992,989.3" fill="none"/>
<polygon points="1428.1,1092.6 1453.8,1061.3 1440.6,1061.8" fill="#77AC30" stroke="none"/>
<polygon points="1414.9,1090.5 1428.1,1092.6 1453.8,1061.3 1440.6,1061.8" fill="none"/>
<polygon points="1441.3,1094.3 1467,1057.8 1453.8,1061.3" fill="#77AC30" stroke="none"/>
<polygon points="1428.1,1092.6 1441.3,1094.3 1467,1057.8 1453.8,1061.3" fill="none"/>
<polygon points="1454.5,1096 1480.2,1050.7 1467,1057.8" fill="#77AC30" stroke="none"/>
<polygon points="1441.3,1094.3 1454.5,1096 1480.2,1050.7 1467,1057.8" fill="none"/>
<polygon points="1454.5,1096 1467.7,1097.7 1493.4,1042.1 1480.2,1050.7" fill="#77AC30"/>
<polygon points="1454.5,1096.8 1467.7,1098.9 1493.4,1071.5 1480.2,1069.4" fill="#3E26A8" stroke-width="4.9"/>
<polygon points="1467.7,1097.7 1480.9,1099.5 1506.6,1037.1 1493.4,1042.1" fill="#77AC30"/>
<polygon points="1467.7,1098.9 1480.9,1101 1506.6,1073.6 1493.4,1071.5" fill="#3E26A8" stroke-width="4.9"/>
<polygon points="1480.9,1099.5 1494.1,1101.7 1519.8,1039.6 1506.6,1037.1" fill="#77AC30"/>
<polygon points="1480.9,1101 1494.1,1103.2 1519.8,1075.7 1506.6,1073.6" fill="#3E26A8" stroke-width="4.9"/>
<polygon points="1494.1,1101.7 1507.2,1104.1 1533,1049.5 1519.8,1039.6" fill="#77AC30"/>
<polygon points="1494.1,1103.2 1507.2,1105.3 1533,1077.8 1519.8,1075.7" fill="#3E26A8" stroke-width="4.9"/>
<polygon points="1507.2,1104.1 1520.4,1106.7 1546.2,1062.3 1533,1049.5" fill="#77AC30"/>
<polygon points="1507.2,1105.3 1520.4,1107.4 1546.2,1079.9 1533,1077.8" fill="#3E26A8" stroke-width="4.9"/>
<polygon points="1533.6,1109.2 1559.4,1073.3 1546.2,1062.3" fill="#77AC30" stroke="none"/>
<polygon points="1520.4,1106.7 1533.6,1109.2 1559.4,1073.3 1546.2,1062.3" fill="none"/>
<polygon points="1546.8,1111.6 1572.6,1080.8 1559.4,1073.3" fill="#77AC30" stroke="none"/>
<polygon points="1533.6,1109.2 1546.8,1111.6 1572.6,1080.8 1559.4,1073.3" fill="none"/>
<polygon points="610.6,982.2 636.4,962.5 623.2,963.1" fill="#EDB120" stroke="none"/>
<polygon points="597.4,989.8 610.6,982.2 636.4,962.5 623.2,963.1" fill="none"/>
<polygon points="610.6,982.2 623.8,955.3 649.6,956.4 636.4,962.5" fill="#EDB120"/>
<polygon points="623.8,955.3 637,943.4 662.8,954.6 649.6,956.4" fill="#EDB120"/>
<polygon points="637,943.4 650.2,972.6 676,964.4 662.8,954.6" fill="#EDB120"/>
<polygon points="650.2,972.6 663.4,996.6 689.2,972.7 676,964.4" fill="#EDB120"/>
<polygon points="650.2,999.4 663.4,1001.5 689.2,974 676,971.9" fill="#3E26A8" stroke-width="4.9"/>
<polygon points="663.4,996.6 676.6,1003.3 689.2,972.7" fill="#EDB120" stroke="none"/>
<polygon points="663.4,996.6 676.6,1003.3 702.3,976.1 689.2,972.7" fill="none"/>
<polygon points="808.6,1024.5 834.3,994.9 821.1,995" fill="#D95319" stroke="none"/>
<polygon points="795.4,1022.7 808.6,1024.5 834.3,994.9 821.1,995" fill="none"/>
<polygon points="821.8,1025.2 847.5,982.8 834.3,994.9" fill="#D95319" stroke="none"/>
<polygon points="808.6,1024.5 821.8,1025.2 847.5,982.8 834.3,994.9" fill="none"/>
<polygon points="808.6,1024.8 821.8,1002.7 847.5,971.6 834.3,997.3" fill="#0072BD"/>
<polygon points="808.6,1024.8 821.8,1026.9 847.5,999.4 834.3,997.3" fill="#3E26A8" stroke-width="4.9"/>
<polygon points="821.8,1025.2 834.9,1021.4 860.7,927.2 847.5,982.8" fill="#D95319"/>
<polygon points="821.8,1026.9 834.9,1029 860.7,1001.6 847.5,999.4" fill="#3E26A8" stroke-width="4.9"/>
<polygon points="821.8,1002.7 834.9,631.1 860.7,544.4 847.5,971.6" fill="#0072BD"/>
<polygon points="834.9,1021.4 848.1,1009 873.9,787.4 860.7,927.2" fill="#D95319"/>
<polygon points="834.9,631.1 848.1,911.3 873.9,866 860.7,544.4" fill="#0072BD"/>
<polygon points="848.1,911.3 861.3,1032.6 887.1,1005 873.9,866" fill="#0072BD"/>
<polygon points="848.1,1031.1 861.3,1033.2 887.1,1005.8 873.9,1003.7" fill="#3E26A8" stroke-width="4.9"/>
<polygon points="848.1,1009 861.3,991.2 887.1,595.3 873.9,787.4" fill="#D95319"/>
<polygon points="861.3,991.2 874.5,983.3 900.3,499.6 887.1,595.3" fill="#D95319"/>
<polygon points="874.5,983.3 887.7,995.4 913.5,599.5 900.3,499.6" fill="#D95319"/>
<polygon points="887.7,995.4 900.9,1017.4 926.7,795.8 913.5,599.5" fill="#D95319"/>
<polygon points="900.9,1017.4 914.1,1034.1 939.9,939.9 926.7,795.8" fill="#D95319"/>
<polygon points="914.1,1034.1 927.3,1042.1 953.1,999.7 939.9,939.9" fill="#D95319"/>
<polygon points="914.1,1041.7 927.3,1043.8 953.1,1016.4 939.9,1014.3" fill="#3E26A8" stroke-width="4.9"/>
<polygon points="940.5,1045.7 966.2,1016 953.1,999.7" fill="#D95319" stroke="none"/>
<polygon points="927.3,1042.1 940.5,1045.7 966.2,1016 953.1,999.7" fill="none"/>
<polygon points="940.5,1045.7 953.7,1048.1 966.2,1016" fill="#D95319" stroke="none"/>
<polygon points="940.5,1045.7 953.7,1048.1 979.4,1020.4 966.2,1016" fill="none"/>
<polygon points="571.7,1015.4 597.4,989.8 584.2,988.8" fill="#EDB120" stroke="none"/>
<polygon points="558.5,1016.1 571.7,1015.4 597.4,989.8 584.2,988.8" fill="none"/>
<polygon points="571.7,1015.4 584.9,990.9 610.6,982.2 597.4,989.8" fill="#EDB120"/>
<polygon points="571.7,1018.4 584.9,1020.5 610.6,993 597.4,990.9" fill="#3E26A8" stroke-width="4.9"/>
<polygon points="584.9,990.9 598.1,914.2 623.8,955.3 610.6,982.2" fill="#EDB120"/>
<polygon points="598.1,914.2 611.3,878.4 637,943.4 623.8,955.3" fill="#EDB120"/>
<polygon points="611.3,878.4 624.5,954.2 650.2,972.6 637,943.4" fill="#EDB120"/>
<polygon points="624.5,954.2 637.7,1015.7 663.4,996.6 650.2,972.6" fill="#EDB120"/>
<polygon points="637.7,1015.7 650.9,1030.2 676.6,1003.3 663.4,996.6" fill="#EDB120"/>
<polygon points="796,1054.4 821.8,1025.2 808.6,1024.5" fill="#D95319" stroke="none"/>
<polygon points="782.8,1052.2 796,1054.4 821.8,1025.2 808.6,1024.5" fill="none"/>
<polygon points="782.8,1052.2 796,1050.8 821.8,1002.7 808.6,1024.8" fill="#0072BD"/>
<polygon points="782.8,1052.2 796,1054.4 821.8,1026.9 808.6,1024.8" fill="#3E26A8" stroke-width="4.9"/>
<polygon points="809.2,1056.5 834.9,1021.4 821.8,1025.2" fill="#D95319" stroke="none"/>
<polygon points="796,1054.4 809.2,1056.5 834.9,1021.4 821.8,1025.2" fill="none"/>
<polygon points="796,1050.8 809.2,997.9 834.9,631.1 821.8,1002.7" fill="#0072BD"/>
<polygon points="809.2,1056.5 822.4,1058.4 848.1,1009 834.9,1021.4" fill="#D95319"/>
<polygon points="809.2,1056.5 822.4,1058.6 848.1,1031.1 834.9,1029" fill="#3E26A8" stroke-width="4.9"/>
<polygon points="809.2,997.9 822.4,1041 848.1,911.3 834.9,631.1" fill="#0072BD"/>
<polygon points="822.4,1058.4 835.6,1060.4 861.3,991.2 848.1,1009" fill="#D95319"/>
<polygon points="822.4,1058.6 835.6,1060.7 861.3,1033.2 848.1,1031.1" fill="#3E26A8" stroke-width="4.9"/>
<polygon points="822.4,1041 835.6,1060.7 861.3,1032.6 848.1,911.3" fill="#0072BD"/>
<polygon points="822.4,1058.6 835.6,1060.7 861.3,1033.2 848.1,1031.1" fill="#3E26A8" stroke-width="4.9"/>
<polygon points="835.6,1060.4 848.8,1062.4 874.5,983.3 861.3,991.2" fill="#D95319"/>
<polygon points="835.6,1060.7 848.8,1062.8 874.5,1035.4 861.3,1033.2" fill="#3E26A8" stroke-width="4.9"/>
<polygon points="848.8,1062.4 862,1064.6 887.7,995.4 874.5,983.3" fill="#D95319"/>
<polygon points="848.8,1062.8 862,1064.9 887.7,1037.5 874.5,1035.4" fill="#3E26A8" stroke-width="4.9"/>
<polygon points="862,1064.6 875.2,1066.9 900.9,1017.4 887.7,995.4" fill="#D95319"/>
<polygon points="862,1064.9 875.2,1067.1 900.9,1039.6 887.7,1037.5" fill="#3E26A8" stroke-width="4.9"/>
<polygon points="875.2,1066.9 888.4,1069.2 914.1,1034.1 900.9,1017.4" fill="#D95319"/>
<polygon points="875.2,1067.1 888.4,1069.2 914.1,1041.7 900.9,1039.6" fill="#3E26A8" stroke-width="4.9"/>
<polygon points="901.6,1071.3 927.3,1042.1 914.1,1034.1" fill="#D95319" stroke="none"/>
<polygon points="888.4,1069.2 901.6,1071.3 927.3,1042.1 914.1,1034.1" fill="none"/>
<polygon points="914.8,1073.4 940.5,1045.7 927.3,1042.1" fill="#D95319" stroke="none"/>
<polygon points="901.6,1071.3 914.8,1073.4 940.5,1045.7 927.3,1042.1" fill="none"/>
<polygon points="546,1039.6 571.7,1015.4 558.5,1016.1" fill="#EDB120" stroke="none"/>
<polygon points="532.8,1043.5 546,1039.6 571.7,1015.4 558.5,1016.1" fill="none"/>
<polygon points="546,1039.6 559.2,986.3 584.9,990.9 571.7,1015.4" fill="#EDB120"/>
<polygon points="559.2,986.3 572.4,824.1 598.1,914.2 584.9,990.9" fill="#EDB120"/>
<polygon points="572.4,824.1 585.5,747.1 611.3,878.4 598.1,914.2" fill="#EDB120"/>
<polygon points="585.5,747.1 598.7,902.8 624.5,954.2 611.3,878.4" fill="#EDB120"/>
<polygon points="598.7,902.8 611.9,1028.7 637.7,1015.7 624.5,954.2" fill="#EDB120"/>
<polygon points="611.9,1028.7 625.1,1056.7 650.9,1030.2 637.7,1015.7" fill="#EDB120"/>
<polygon points="611.9,1056.4 625.1,1058.5 650.9,1031.1 637.7,1028.9" fill="#3E26A8" stroke-width="4.9"/>
<polygon points="625.1,1056.7 638.3,1060.6 650.9,1030.2" fill="#EDB120" stroke="none"/>
<polygon points="625.1,1056.7 638.3,1060.6 664.1,1033.2 650.9,1030.2" fill="none"/>
<polygon points="770.3,1081.8 796,1050.8 782.8,1052.2" fill="#0072BD" stroke="none"/>
<polygon points="757.1,1079.7 770.3,1081.8 796,1050.8 782.8,1052.2" fill="none"/>
<polygon points="770.3,1081.8 783.5,1082.5 809.2,997.9 796,1050.8" fill="#0072BD"/>
<polygon points="770.3,1081.8 783.5,1083.9 809.2,1056.5 796,1054.4" fill="#3E26A8" stroke-width="4.9"/>
<polygon points="783.5,1082.5 796.7,1085.6 822.4,1041 809.2,997.9" fill="#0072BD"/>
<polygon points="783.5,1083.9 796.7,1086 822.4,1058.6 809.2,1056.5" fill="#3E26A8" stroke-width="4.9"/>
<polygon points="796.7,1085.6 809.9,1088.2 822.4,1041" fill="#0072BD" stroke="none"/>
<polygon points="796.7,1085.6 809.9,1088.2 835.6,1060.7 822.4,1041" fill="none"/>
<polygon points="520.2,1063.4 546,1039.6 532.8,1043.5" fill="#EDB120" stroke="none"/>
<polygon points="507,1070.8 520.2,1063.4 546,1039.6 532.8,1043.5" fill="none"/>
<polygon points="520.2,1063.4 533.4,977 559.2,986.3 546,1039.6" fill="#EDB120"/>
<polygon points="533.4,977 546.6,716.3 572.4,824.1 559.2,986.3" fill="#EDB120"/>
<polygon points="546.6,716.3 559.8,592 585.5,747.1 572.4,824.1" fill="#EDB120"/>
<polygon points="559.8,592 573,839.6 598.7,902.8 585.5,747.1" fill="#EDB120"/>
<polygon points="573,839.6 586.2,1039.6 611.9,1028.7 598.7,902.8" fill="#EDB120"/>
<polygon points="586.2,1039.6 599.4,1083 625.1,1056.7 611.9,1028.7" fill="#EDB120"/>
<polygon points="586.2,1083.9 599.4,1086 625.1,1058.5 611.9,1056.4" fill="#3E26A8" stroke-width="4.9"/>
<polygon points="599.4,1083 612.6,1088 625.1,1056.7" fill="#EDB120" stroke="none"/>
<polygon points="599.4,1083 612.6,1088 638.3,1060.6 625.1,1056.7" fill="none"/>
<polygon points="718.1,1104 731.3,1089.5 743.9,1077.6" fill="#7E2F8E" stroke="none"/>
<polygon points="718.1,1104 731.3,1089.5 757.1,1079.7 743.9,1077.6" fill="none"/>
<polygon points="731.3,1089.5 744.5,1108.7 757.1,1079.7" fill="#7E2F8E" stroke="none"/>
<polygon points="731.3,1089.5 744.5,1108.7 770.3,1081.8 757.1,1079.7" fill="none"/>
<polygon points="494.5,1088.6 520.2,1063.4 507,1070.8" fill="#EDB120" stroke="none"/>
<polygon points="481.3,1098.2 494.5,1088.6 520.2,1063.4 507,1070.8" fill="none"/>
<polygon points="494.5,1088.6 507.7,982.2 533.4,977 520.2,1063.4" fill="#EDB120"/>
<polygon points="507.7,982.2 520.9,662.3 546.6,716.3 533.4,977" fill="#EDB120"/>
<polygon points="520.9,662.3 534.1,509.6 559.8,592 546.6,716.3" fill="#EDB120"/>
<polygon points="534.1,509.6 547.3,812.5 573,839.6 559.8,592" fill="#EDB120"/>
<polygon points="547.3,812.5 560.5,1057.1 586.2,1039.6 573,839.6" fill="#EDB120"/>
<polygon points="560.5,1057.1 573.6,1109.8 599.4,1083 586.2,1039.6" fill="#EDB120"/>
<polygon points="573.6,1109.8 586.8,1115.5 599.4,1083" fill="#EDB120" stroke="none"/>
<polygon points="573.6,1109.8 586.8,1115.5 612.6,1088 599.4,1083" fill="none"/>
<polygon points="692.4,1103.4 718.1,1104 704.9,1102.9" fill="#7E2F8E" stroke="none"/>
<polygon points="679.2,1130.4 692.4,1103.4 718.1,1104 704.9,1102.9" fill="none"/>
<polygon points="692.4,1103.4 705.6,650 731.3,1089.5 718.1,1104" fill="#7E2F8E"/>
<polygon points="692.4,1132.5 705.6,1134.6 731.3,1107.2 718.1,1105" fill="#3E26A8" stroke-width="4.9"/>
<polygon points="705.6,650 718.8,1121.2 744.5,1108.7 731.3,1089.5" fill="#7E2F8E"/>
<polygon points="705.6,1134.6 718.8,1136.7 744.5,1109.3 731.3,1107.2" fill="#3E26A8" stroke-width="4.9"/>
<polygon points="718.8,1121.2 732,1138.8 744.5,1108.7" fill="#7E2F8E" stroke="none"/>
<polygon points="718.8,1121.2 732,1138.8 757.7,1111.4 744.5,1108.7" fill="none"/>
<polygon points="468.7,1116.8 494.5,1088.6 481.3,1098.2" fill="#EDB120" stroke="none"/>
<polygon points="455.5,1125.7 468.7,1116.8 494.5,1088.6 481.3,1098.2" fill="none"/>
<polygon points="468.7,1116.8 481.9,1017 507.7,982.2 494.5,1088.6" fill="#EDB120"/>
<polygon points="481.9,1017 495.1,716.6 520.9,662.3 507.7,982.2" fill="#EDB120"/>
<polygon points="495.1,716.6 508.3,573.2 534.1,509.6 520.9,662.3" fill="#EDB120"/>
<polygon points="508.3,573.2 521.5,857.9 547.3,812.5 534.1,509.6" fill="#EDB120"/>
<polygon points="521.5,857.9 534.7,1087.9 560.5,1057.1 547.3,812.5" fill="#EDB120"/>
<polygon points="534.7,1087.9 547.9,1137.5 573.6,1109.8 560.5,1057.1" fill="#EDB120"/>
<polygon points="547.9,1137.5 561.1,1142.9 573.6,1109.8" fill="#EDB120" stroke="none"/>
<polygon points="547.9,1137.5 561.1,1142.9 586.8,1115.5 573.6,1109.8" fill="none"/>
<polygon points="666.7,1158.4 692.4,1103.4 679.2,1130.4" fill="#7E2F8E" stroke="none"/>
<polygon points="653.5,1157.8 666.7,1158.4 692.4,1103.4 679.2,1130.4" fill="none"/>
<polygon points="666.7,1158.4 679.9,1136.4 705.6,650 692.4,1103.4" fill="#7E2F8E"/>
<polygon points="666.7,1160 679.9,1162.1 705.6,1134.6 692.4,1132.5" fill="#3E26A8" stroke-width="4.9"/>
<polygon points="679.9,1136.4 693.1,1163.4 718.8,1121.2 705.6,650" fill="#7E2F8E"/>
<polygon points="679.9,1162.1 693.1,1164.2 718.8,1136.7 705.6,1134.6" fill="#3E26A8" stroke-width="4.9"/>
<polygon points="693.1,1163.4 706.2,1166.3 718.8,1121.2" fill="#7E2F8E" stroke="none"/>
<polygon points="693.1,1163.4 706.2,1166.3 732,1138.8 718.8,1121.2" fill="none"/>
<polygon points="443,1147.5 468.7,1116.8 455.5,1125.7" fill="#EDB120" stroke="none"/>
<polygon points="429.8,1153.2 443,1147.5 468.7,1116.8 455.5,1125.7" fill="none"/>
<polygon points="443,1147.5 456.2,1076.2 481.9,1017 468.7,1116.8" fill="#EDB120"/>
<polygon points="456.2,1076.2 469.4,860.4 495.1,716.6 481.9,1017" fill="#EDB120"/>
<polygon points="469.4,860.4 482.6,757.7 508.3,573.2 495.1,716.6" fill="#EDB120"/>
<polygon points="482.6,757.7 495.8,963.4 521.5,857.9 508.3,573.2" fill="#EDB120"/>
<polygon points="495.8,963.4 509,1129.6 534.7,1087.9 521.5,857.9" fill="#EDB120"/>
<polygon points="509,1129.6 522.2,1165.9 547.9,1137.5 534.7,1087.9" fill="#EDB120"/>
<polygon points="509,1166.2 522.2,1168.4 547.9,1140.9 534.7,1138.8" fill="#3E26A8" stroke-width="4.9"/>
<polygon points="522.2,1165.9 535.4,1170.5 547.9,1137.5" fill="#EDB120" stroke="none"/>
<polygon points="522.2,1165.9 535.4,1170.5 561.1,1142.9 547.9,1137.5" fill="none"/>
<polygon points="654.1,1189.5 679.9,1136.4 666.7,1158.4" fill="#7E2F8E" stroke="none"/>
<polygon points="640.9,1187.4 654.1,1189.5 679.9,1136.4 666.7,1158.4" fill="none"/>
<polygon points="667.3,1191.7 693.1,1163.4 679.9,1136.4" fill="#7E2F8E" stroke="none"/>
<polygon points="654.1,1189.5 667.3,1191.7 693.1,1163.4 679.9,1136.4" fill="none"/>
<polygon points="417.3,1178.6 443,1147.5 429.8,1153.2" fill="#EDB120" stroke="none"/>
<polygon points="404.1,1180.8 417.3,1178.6 443,1147.5 429.8,1153.2" fill="none"/>
<polygon points="417.3,1178.6 430.5,1140.2 456.2,1076.2 443,1147.5" fill="#EDB120"/>
<polygon points="430.5,1140.2 443.6,1022 469.4,860.4 456.2,1076.2" fill="#EDB120"/>
<polygon points="443.6,1022 456.8,966.2 482.6,757.7 469.4,860.4" fill="#EDB120"/>
<polygon points="456.8,966.2 470,1080.7 495.8,963.4 482.6,757.7" fill="#EDB120"/>
<polygon points="470,1080.7 483.2,1173.5 509,1129.6 495.8,963.4" fill="#EDB120"/>
<polygon points="483.2,1173.5 496.4,1194.5 522.2,1165.9 509,1129.6" fill="#EDB120"/>
<polygon points="483.2,1193.7 496.4,1195.8 522.2,1168.4 509,1166.2" fill="#3E26A8" stroke-width="4.9"/>
<polygon points="496.4,1194.5 509.6,1197.9 522.2,1165.9" fill="#EDB120" stroke="none"/>
<polygon points="496.4,1194.5 509.6,1197.9 535.4,1170.5 522.2,1165.9" fill="none"/>
<polygon points="391.5,1208.7 417.3,1178.6 404.1,1180.8" fill="#EDB120" stroke="none"/>
<polygon points="378.3,1208.4 391.5,1208.7 417.3,1178.6 404.1,1180.8" fill="none"/>
<polygon points="391.5,1208.7 404.7,1193.6 430.5,1140.2 417.3,1178.6" fill="#EDB120"/>
<polygon points="391.5,1210.6 404.7,1212.7 430.5,1185.2 417.3,1183.1" fill="#3E26A8" stroke-width="4.9"/>
<polygon points="404.7,1193.6 417.9,1144.8 443.6,1022 430.5,1140.2" fill="#EDB120"/>
<polygon points="417.9,1144.8 431.1,1122.4 456.8,966.2 443.6,1022" fill="#EDB120"/>
<polygon points="431.1,1122.4 444.3,1172.1 470,1080.7 456.8,966.2" fill="#EDB120"/>
<polygon points="444.3,1172.1 457.5,1212.6 483.2,1173.5 470,1080.7" fill="#EDB120"/>
<polygon points="457.5,1212.6 470.7,1222.7 496.4,1194.5 483.2,1173.5" fill="#EDB120"/>
<polygon points="457.5,1221.2 470.7,1223.3 496.4,1195.8 483.2,1193.7" fill="#3E26A8" stroke-width="4.9"/>
<polygon points="470.7,1222.7 483.9,1225.4 496.4,1194.5" fill="#EDB120" stroke="none"/>
<polygon points="470.7,1222.7 483.9,1225.4 509.6,1197.9 496.4,1194.5" fill="none"/>
<polygon points="365.8,1237.4 391.5,1208.7 378.3,1208.4" fill="#EDB120" stroke="none"/>
<polygon points="352.6,1235.9 365.8,1237.4 391.5,1208.7 378.3,1208.4" fill="none"/>
<polygon points="365.8,1237.4 379,1234 404.7,1193.6 391.5,1208.7" fill="#EDB120"/>
<polygon points="365.8,1238 379,1240.2 404.7,1212.7 391.5,1210.6" fill="#3E26A8" stroke-width="4.9"/>
<polygon points="379,1234 392.2,1219.6 417.9,1144.8 404.7,1193.6" fill="#EDB120"/>
<polygon points="392.2,1219.6 405.4,1213.7 431.1,1122.4 417.9,1144.8" fill="#EDB120"/>
<polygon points="405.4,1213.7 418.6,1231.3 444.3,1172.1 431.1,1122.4" fill="#EDB120"/>
<polygon points="418.6,1231.3 431.8,1245.8 457.5,1212.6 444.3,1172.1" fill="#EDB120"/>
<polygon points="431.8,1245.8 444.9,1250.6 457.5,1212.6" fill="#EDB120" stroke="none"/>
<polygon points="431.8,1245.8 444.9,1250.6 470.7,1222.7 457.5,1212.6" fill="none"/>
</g>
<g fill="#262626">
<text transform="matrix(1 0 0 1.040 100.6 1354.9)" font-family="'Liberation Sans', sans-serif" font-size="69">0</text>
<text transform="matrix(1 0 0 1.040 326.1 1397.8)" font-family="'Liberation Sans', sans-serif" font-size="69">20</text>
<text transform="matrix(1 0 0 1.040 590 1440.8)" font-family="'Liberation Sans', sans-serif" font-size="69">40</text>
<text transform="matrix(1 0 0 1.040 853.9 1483.7)" font-family="'Liberation Sans', sans-serif" font-size="69">60</text>
<text transform="matrix(1 0 0 1.040 1117.8 1526.6)" font-family="'Liberation Sans', sans-serif" font-size="69">80</text>
<text transform="matrix(1 0 0 1.040 1343.3 1569.6)" font-family="'Liberation Sans', sans-serif" font-size="69">100</text>
<text transform="matrix(1 0 0 1.040 1558.3 1535.8)" font-family="'Liberation Sans', sans-serif" font-size="69">0</text>
<text transform="matrix(1 0 0 1.040 1815.7 1261.2)" font-family="'Liberation Sans', sans-serif" font-size="69">10</text>
<text transform="matrix(1 0 0 1.040 2073.1 986.6)" font-family="'Liberation Sans', sans-serif" font-size="69">20</text>
<text transform="matrix(1 0 0 1.040 82.6 1259.2)" font-family="'Liberation Sans', sans-serif" font-size="69">0</text>
<text transform="matrix(1 0 0 1.040 25.1 945.4)" font-family="'Liberation Sans', sans-serif" font-size="69">0.5</text>
<text transform="matrix(1 0 0 1.040 82.6 631.6)" font-family="'Liberation Sans', sans-serif" font-size="69">1</text>
</g>
<text transform="translate(648.5 1661.2) scale(1 1.040)" font-family="'Liberation Sans', sans-serif" font-size="75.5" fill="#262626" xml:space="preserve"><tspan x="-2.6" font-family="'Liberation Serif', serif" font-style="italic" font-size="68.1" fill="#505050" textLength="46" lengthAdjust="spacingAndGlyphs">α</tspan><tspan x="46.4 67.4 92.5"> (T</tspan><tspan x="142.1 161.9" dy="-34.6" font-size="59.5">-1</tspan><tspan x="196.2 217.2 259.2" dy="34.6"> 10</tspan><tspan x="303.7 323.5" dy="-34.6" font-size="59.5">-6</tspan><tspan x="358" dy="34.6">)</tspan></text>
<text transform="translate(1538.3 1743.2) scale(1 1.040)" font-family="'Liberation Sans', sans-serif" font-size="75.5" fill="#262626" xml:space="preserve"><tspan x="-1.8" font-family="'Liberation Serif', serif" font-style="italic" font-size="72.1" fill="#505050" textLength="40.1" lengthAdjust="spacingAndGlyphs">γ</tspan><tspan x="39.6 60.6 85.7 140.2"> (RH</tspan><tspan x="198.6 218.4" dy="-34.6" font-size="59.5">-1</tspan><tspan x="253.7 274.7 316.7" dy="34.6"> 10</tspan><tspan x="359.4 379.2" dy="-34.6" font-size="59.5">-6</tspan><tspan x="414.4" dy="34.6">)</tspan></text>
<rect x="1127.3" y="24.3" width="579.2" height="510.5" fill="#fff" stroke="#262626" stroke-width="4.3"/>
<g fill="#000">
<rect x="1150.3" y="44.2" width="218.6" height="60.4" fill="#0072BD" stroke="#000" stroke-width="4.4"/>
<text transform="matrix(1 0 0 1.040 1385 97.3)" font-family="'Liberation Sans', sans-serif" font-size="62">Rogers</text>
<rect x="1150.3" y="126.2" width="218.6" height="60.4" fill="#D95319" stroke="#000" stroke-width="4.4"/>
<text transform="matrix(1 0 0 1.040 1385 176.8)" font-family="'Liberation Sans', sans-serif" font-size="62">SiNWs-py</text>
<rect x="1150.3" y="208.1" width="218.6" height="60.4" fill="#EDB120" stroke="#000" stroke-width="4.4"/>
<text transform="matrix(1 0 0 1.040 1385 256.8)" font-family="'Liberation Sans', sans-serif" font-size="62">Pentacene</text>
<rect x="1150.3" y="290.1" width="218.6" height="60.4" fill="#7E2F8E" stroke="#000" stroke-width="4.4"/>
<text transform="matrix(1 0 0 1.040 1385 336.9)" font-family="'Liberation Sans', sans-serif" font-size="62">SiNWs-N3</text>
<rect x="1150.3" y="372" width="218.6" height="60.4" fill="#77AC30" stroke="#000" stroke-width="4.4"/>
<text transform="matrix(1 0 0 1.040 1385 417.1)" font-family="'Liberation Sans', sans-serif" font-size="62">SiNWs-OTS</text>
<rect x="1150.3" y="453.9" width="218.6" height="60.4" fill="#4DBEEE" stroke="#000" stroke-width="4.4"/>
<text transform="matrix(1 0 0 1.040 1385 507.4)" font-family="'Liberation Sans', sans-serif" font-size="62">NW</text>
</g>
<text y="1872" font-family="'Liberation Serif', serif" font-size="86" fill="#000"><tspan x="1041.8" textLength="22.9" lengthAdjust="spacingAndGlyphs">(</tspan><tspan x="1067" font-weight="bold" font-size="85">a</tspan><tspan x="1112.4" textLength="22.9" lengthAdjust="spacingAndGlyphs">)</tspan></text>
<text y="3708.5" font-family="'Liberation Serif', serif" font-size="86" fill="#000"><tspan x="1036.9" textLength="22.9" lengthAdjust="spacingAndGlyphs">(</tspan><tspan x="1064" font-weight="bold" font-size="85">b</tspan><tspan x="1116.1" textLength="22.9" lengthAdjust="spacingAndGlyphs">)</tspan></text>
<rect x="241.9" y="1919.4" width="1863.3" height="1448.9" fill="#BBBAB9"/>
<polygon fill="#EDB120" points="539.2,2979.5 539,3006.3 538.4,3033 537.3,3059.2 535.9,3084.8 534.1,3109.7 531.9,3133.5 529.5,3156.2 526.8,3177.5 523.8,3197.3 520.7,3215.4 517.5,3231.8 514.2,3246.2 510.9,3258.6 507.7,3268.9 504.6,3277 501.9,3282.8 499.5,3286.3 498,3287.5 496.5,3286.3 494.1,3282.8 491.4,3277 488.3,3268.9 485.1,3258.6 481.8,3246.2 478.5,3231.8 475.3,3215.4 472.2,3197.3 469.2,3177.5 466.5,3156.2 464.1,3133.5 461.9,3109.7 460.1,3084.8 458.7,3059.2 457.6,3033 457,3006.3 456.8,2979.5 457,2952.7 457.6,2926 458.7,2899.8 460.1,2874.2 461.9,2849.3 464.1,2825.5 466.5,2802.8 469.2,2781.5 472.2,2761.7 475.3,2743.6 478.5,2727.2 481.8,2712.8 485.1,2700.4 488.3,2690.1 491.4,2682 494.1,2676.2 496.5,2672.7 498,2671.5 499.5,2672.7 501.9,2676.2 504.6,2682 507.7,2690.1 510.9,2700.4 514.2,2712.8 517.5,2727.2 520.7,2743.6 523.8,2761.7 526.8,2781.5 529.5,2802.8 531.9,2825.5 534.1,2849.3 535.9,2874.2 537.3,2899.8 538.4,2926 539,2952.7"/>
<path fill="#D95319" d="M771.7 2556.9C771.7 2556.9 774.6 2523.4 774.6 2523.4C774.6 2523.4 780.3 2500.5 780.3 2500.5C780.3 2500.5 791.8 2485.2 791.8 2485.2C791.8 2485.2 810 2477.5 810 2477.5C810 2477.5 817.6 2465.1 817.6 2465.1C817.6 2465.1 838.6 2462.3 838.6 2462.3C838.6 2462.3 852 2532 852 2532C852 2532 817.6 2644.8 817.6 2644.8C817.6 2644.8 794.7 2570.2 794.7 2570.2C794.7 2570.2 771.7 2556.9 771.7 2556.9Z"/>
<polygon fill="#D95319" points="911.7,2554.3 912,2562.6 911.9,2571 911.3,2579.3 910.3,2587.4 908.8,2595.3 906.9,2602.9 904.5,2610.1 901.8,2617 898.6,2623.4 895.1,2629.4 891.3,2634.8 887.1,2639.6 882.7,2643.8 878.1,2647.3 873.2,2650.2 868.1,2652.4 863,2653.8 857.7,2654.6 852.4,2654.6 847.1,2653.8 841.8,2652.4 836.6,2650.2 831.5,2647.4 826.5,2643.8 821.7,2639.6 817.2,2634.8 812.9,2629.4 808.9,2623.5 805.2,2617.1 801.8,2610.2 798.9,2602.9 796.3,2595.3 794.2,2587.5 792.4,2579.4 791.2,2571.1 790.3,2562.7 790,2554.4 790.1,2546 790.7,2537.7 791.7,2529.6 793.2,2521.7 795.1,2514.1 797.5,2506.9 800.2,2500 803.4,2493.6 806.9,2487.6 810.7,2482.2 814.9,2477.4 819.3,2473.2 823.9,2469.7 828.8,2466.8 833.9,2464.6 839,2463.2 844.3,2462.4 849.6,2462.4 854.9,2463.2 860.2,2464.6 865.4,2466.8 870.5,2469.6 875.5,2473.2 880.3,2477.4 884.8,2482.2 889.1,2487.6 893.1,2493.5 896.8,2499.9 900.2,2506.8 903.1,2514.1 905.7,2521.7 907.8,2529.5 909.6,2537.6 910.8,2545.9"/>
<path fill="#0072BD" d="M788.9 2498.6C788.8 2498.2 787.7 2513.6 787 2514.8C786.4 2516.1 776 2521.6 775.6 2523.4C775.1 2525.2 777.6 2549.4 777.5 2551.1C777.3 2552.9 772.9 2555 772.7 2558.8C772.5 2562.6 772.7 2622.4 772.7 2627.6C772.7 2632.7 773.5 2659.2 773.7 2662C773.8 2664.8 776.4 2681 776.5 2683C776.7 2685 775.9 2699.5 776.5 2702.1C777.1 2704.8 786.7 2734.3 788 2735.6C789.3 2736.8 801 2728 802.3 2727C803.6 2726 813.3 2716.8 813.8 2715.5C814.3 2714.2 812.6 2701.6 812.8 2700.2C813 2698.8 817.3 2690.5 817.6 2687.8C817.9 2685.1 818.8 2649.9 818.6 2646.7C818.4 2643.5 814.5 2626.8 813.8 2623.8C813.1 2620.7 805.2 2589.4 804.2 2585.5C803.3 2581.7 795.3 2550.5 794.7 2547.3C794 2544.2 791.1 2524.9 790.9 2522.5C790.6 2520 789.1 2499 788.9 2498.6Z"/>
<path fill="#7E2F8E" d="M743 2907.5C743.4 2907.3 749.1 2907 749.6 2907.5C750.1 2908 752.5 2916.1 752.8 2916.8C753.1 2917.5 755.4 2920.3 755.6 2921.2C755.7 2922 756 2933 756.1 2934.3C756.2 2935.6 758 2946.2 758.3 2947.4C758.6 2948.6 762.4 2956.9 762.7 2958.3C762.9 2959.7 763.7 2973 763.8 2974.7C763.8 2976.3 764.4 2989.4 764.3 2991.1C764.2 2992.7 762.7 3005.8 762.7 3007.4C762.6 3009.1 763.3 3022.3 762.7 3023.3C762.1 3024.3 751.6 3027.4 750.7 3027.1C749.7 3026.8 743.6 3017.7 743 3017.3C742.5 3016.9 740.3 3019 739.7 3018.9C739.1 3018.9 731.8 3017.1 731 3016.2C730.2 3015.2 724.8 3001.3 724.4 2999.8C724.1 2998.3 723.9 2986.7 723.9 2985.6C723.9 2984.5 725.1 2979 725 2978C724.9 2976.9 722 2964.7 721.7 2963.8C721.5 2962.8 720.2 2959.7 720.1 2958.3C720 2956.9 719.1 2936.7 719.5 2935.4C720 2934 728.1 2931.4 728.8 2931C729.5 2930.6 732.6 2927.1 733.2 2926.6C733.7 2926.2 739.3 2923 739.7 2922.3C740.1 2921.5 740.7 2913.2 740.8 2912.4C741 2911.7 742.6 2907.8 743 2907.5Z"/>
<polygon fill="#4DBEEE" points="1355.9,2324.8 1355.2,2328.2 1353.2,2332.6 1349.9,2337.3 1345.2,2342.3 1339.3,2347.4 1332.1,2352.4 1323.8,2357.3 1314.4,2362.1 1303.9,2366.6 1292.5,2370.8 1280.3,2374.7 1267.2,2378.1 1253.5,2381.1 1239.2,2383.6 1224.4,2385.6 1209.3,2387 1194,2387.9 1178.5,2388.2 1163,2387.9 1147.7,2387 1132.6,2385.6 1117.8,2383.6 1103.5,2381.1 1089.8,2378.1 1076.7,2374.7 1064.5,2370.8 1053.1,2366.6 1042.6,2362.1 1033.2,2357.3 1024.9,2352.4 1017.7,2347.4 1011.8,2342.3 1007.1,2337.3 1003.8,2332.6 1001.8,2328.2 1001.1,2324.8 1001.8,2321.4 1003.8,2317 1007.1,2312.3 1011.8,2307.3 1017.7,2302.2 1024.9,2297.2 1033.2,2292.3 1042.6,2287.5 1053.1,2283 1064.5,2278.8 1076.7,2274.9 1089.8,2271.5 1103.5,2268.5 1117.8,2266 1132.6,2264 1147.7,2262.6 1163,2261.7 1178.5,2261.4 1194,2261.7 1209.3,2262.6 1224.4,2264 1239.2,2266 1253.5,2268.5 1267.2,2271.5 1280.3,2274.9 1292.5,2278.8 1303.9,2283 1314.4,2287.5 1323.8,2292.3 1332.1,2297.2 1339.3,2302.2 1345.2,2307.3 1349.9,2312.3 1353.2,2317 1355.2,2321.4"/>
<polygon fill="#77AC30" points="1762.7,2349.8 1762.4,2362.5 1761.4,2375.1 1759.8,2387.5 1757.6,2399.6 1754.7,2411.3 1751.3,2422.6 1747.3,2433.3 1742.8,2443.4 1737.8,2452.8 1732.3,2461.3 1726.5,2469.1 1720.2,2475.9 1713.6,2481.8 1706.8,2486.6 1699.7,2490.4 1692.5,2493.2 1685.1,2494.8 1677.7,2495.4 1670.3,2494.8 1662.9,2493.2 1655.7,2490.4 1648.6,2486.6 1641.8,2481.8 1635.2,2475.9 1628.9,2469.1 1623.1,2461.3 1617.6,2452.8 1612.6,2443.4 1608.1,2433.3 1604.1,2422.6 1600.7,2411.3 1597.8,2399.6 1595.6,2387.5 1594,2375.1 1593,2362.5 1592.7,2349.8 1593,2337.1 1594,2324.5 1595.6,2312.1 1597.8,2300 1600.7,2288.3 1604.1,2277 1608.1,2266.3 1612.6,2256.2 1617.6,2246.8 1623.1,2238.3 1628.9,2230.5 1635.2,2223.7 1641.8,2217.8 1648.6,2213 1655.7,2209.2 1662.9,2206.4 1670.3,2204.8 1677.7,2204.2 1685.1,2204.8 1692.5,2206.4 1699.7,2209.2 1706.8,2213 1713.6,2217.8 1720.2,2223.7 1726.5,2230.5 1732.3,2238.3 1737.8,2246.8 1742.8,2256.2 1747.3,2266.3 1751.3,2277 1754.7,2288.3 1757.6,2300 1759.8,2312.1 1761.4,2324.5 1762.4,2337.1"/>
<path d="M224.1 1919L224.1 3404L2104.8 3404M224.1 3404L224.1 3385.5M600.2 3404L600.2 3385.5M976.4 3404L976.4 3385.5M1352.5 3404L1352.5 3385.5M1728.7 3404L1728.7 3385.5M2104.8 3404L2104.8 3385.5M224.1 3404L242.6 3404M224.1 3218.4L242.6 3218.4M224.1 3032.8L242.6 3032.8M224.1 2847.1L242.6 2847.1M224.1 2661.5L242.6 2661.5M224.1 2475.9L242.6 2475.9M224.1 2290.2L242.6 2290.2M224.1 2104.6L242.6 2104.6M224.1 1919L242.6 1919" stroke="#262626" stroke-width="2.6" fill="none" stroke-linecap="square"/>
<g fill="#262626">
<text transform="matrix(1 0 0 1.040 207.8 3487.6)" font-family="'Liberation Sans', sans-serif" font-size="58.5">0</text>
<text transform="matrix(1 0 0 1.040 567.7 3487.6)" font-family="'Liberation Sans', sans-serif" font-size="58.5">20</text>
<text transform="matrix(1 0 0 1.040 943.8 3487.6)" font-family="'Liberation Sans', sans-serif" font-size="58.5">40</text>
<text transform="matrix(1 0 0 1.040 1320 3487.6)" font-family="'Liberation Sans', sans-serif" font-size="58.5">60</text>
<text transform="matrix(1 0 0 1.040 1696.1 3487.6)" font-family="'Liberation Sans', sans-serif" font-size="58.5">80</text>
<text transform="matrix(1 0 0 1.040 2056 3487.6)" font-family="'Liberation Sans', sans-serif" font-size="58.5">100</text>
<text transform="matrix(1 0 0 1.040 166.5 3429)" font-family="'Liberation Sans', sans-serif" font-size="58.5">0</text>
<text transform="matrix(1 0 0 1.040 166.5 3243.4)" font-family="'Liberation Sans', sans-serif" font-size="58.5">5</text>
<text transform="matrix(1 0 0 1.040 133.9 3057.8)" font-family="'Liberation Sans', sans-serif" font-size="58.5">10</text>
<text transform="matrix(1 0 0 1.040 133.9 2872.1)" font-family="'Liberation Sans', sans-serif" font-size="58.5">15</text>
<text transform="matrix(1 0 0 1.040 133.9 2686.5)" font-family="'Liberation Sans', sans-serif" font-size="58.5">20</text>
<text transform="matrix(1 0 0 1.040 133.9 2500.9)" font-family="'Liberation Sans', sans-serif" font-size="58.5">25</text>
<text transform="matrix(1 0 0 1.040 133.9 2315.2)" font-family="'Liberation Sans', sans-serif" font-size="58.5">30</text>
<text transform="matrix(1 0 0 1.040 133.9 2129.6)" font-family="'Liberation Sans', sans-serif" font-size="58.5">35</text>
<text transform="matrix(1 0 0 1.040 133.9 1944)" font-family="'Liberation Sans', sans-serif" font-size="58.5">40</text>
</g>
<text transform="translate(1005.1 3587.4) scale(1 1.040)" font-family="'Liberation Sans', sans-serif" font-size="63.2" fill="#262626" xml:space="preserve"><tspan x="-2.2" font-family="'Liberation Serif', serif" font-style="italic" font-size="57" fill="#505050" textLength="38.5" lengthAdjust="spacingAndGlyphs">α</tspan><tspan x="38.8 56.4 77.4"> (T</tspan><tspan x="119 135.5" dy="-29" font-size="49.8">-1</tspan><tspan x="164.3 181.8 217" dy="29"> 10</tspan><tspan x="254.2 270.8" dy="-29" font-size="49.8">-6</tspan><tspan x="299.7" dy="29">)</tspan></text>
<text transform="translate(100.9 2845.2) rotate(-90) scale(1 1.040)" font-family="'Liberation Sans', sans-serif" font-size="63.4" fill="#262626" xml:space="preserve"><tspan x="-1.5" font-family="'Liberation Serif', serif" font-style="italic" font-size="60.5" fill="#505050" textLength="33.7" lengthAdjust="spacingAndGlyphs">γ</tspan><tspan x="33.2 50.9 72 117.7"> (RH</tspan><tspan x="166.7 183.4" dy="-29.1" font-size="50">-1</tspan><tspan x="213 230.6 265.9" dy="29.1"> 10</tspan><tspan x="301.7 318.4" dy="-29.1" font-size="50">-6</tspan><tspan x="347.9" dy="29.1">)</tspan></text>
</svg>
</body></html>
